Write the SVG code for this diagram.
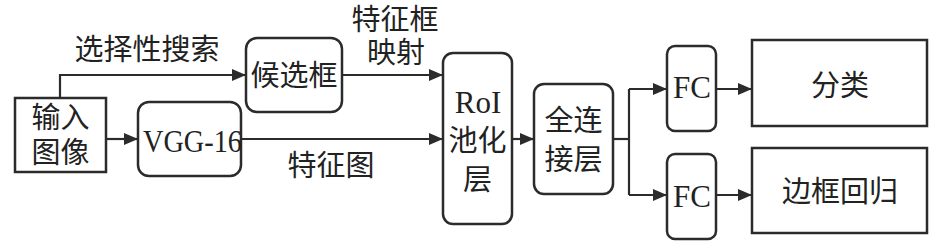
<svg xmlns="http://www.w3.org/2000/svg" width="945" height="243" viewBox="0 0 945 243">
<defs>
<style>
.box{fill:#fff;stroke:#2b2b2b;stroke-width:2.5}
.ln{fill:none;stroke:#2b2b2b;stroke-width:2.2}
.cj{font-family:"Noto Sans CJK SC","Noto Sans CJK JP",sans-serif;font-size:29px;fill:#222;text-anchor:middle}
.la{font-family:"Liberation Serif","Times New Roman",serif;font-size:31px;fill:#222;text-anchor:middle}
</style>
<marker id="ah" viewBox="0 0 14 12" refX="14" refY="6" markerWidth="14" markerHeight="12" markerUnits="userSpaceOnUse" orient="auto">
<path d="M0,0 L14,6 L0,12 Z" fill="#2b2b2b"/>
</marker>
</defs>
<rect width="945" height="243" fill="#fff"/>
<g id="connectors">
<path class="ln" d="M60,98 V75 H246" marker-end="url(#ah)"/>
<path class="ln" d="M106,139 H138" marker-end="url(#ah)"/>
<path class="ln" d="M241,139 H443" marker-end="url(#ah)"/>
<path class="ln" d="M342,75 H443" marker-end="url(#ah)"/>
<path class="ln" d="M512,139 H534" marker-end="url(#ah)"/>
<path class="ln" d="M613,139 H629"/>
<path class="ln" d="M629,89 V195"/>
<path class="ln" d="M629,89 H667" marker-end="url(#ah)"/>
<path class="ln" d="M629,195 H667" marker-end="url(#ah)"/>
<path class="ln" d="M716,89 H752" marker-end="url(#ah)"/>
<path class="ln" d="M716,195 H752" marker-end="url(#ah)"/>
<text class="cj" x="147" y="60">选择性搜索</text>
<text class="cj" x="395" y="30">特征框</text>
<text class="cj" x="396" y="63">映射</text>
<text class="cj" x="331" y="176">特征图</text>
</g>
<g id="input">
<rect class="box" x="15" y="98" width="91" height="74"/>
<text class="cj" x="60.5" y="128">输入</text>
<text class="cj" x="60.5" y="163">图像</text>
</g>
<g id="candidate">
<rect class="box" x="246" y="38" width="96" height="74" rx="11"/>
<text class="cj" x="294" y="86">候选框</text>
</g>
<g id="vgg">
<rect class="box" x="138" y="102" width="103" height="74" rx="11"/>
<text class="la" x="192.5" y="152" textLength="99" lengthAdjust="spacingAndGlyphs">VGG-16</text>
</g>
<g id="roi">
<rect class="box" x="443" y="53" width="69" height="171" rx="10"/>
<text class="la" x="478" y="113">RoI</text>
<text class="cj" x="477.5" y="151">池化</text>
<text class="cj" x="477.5" y="190">层</text>
</g>
<g id="fcl">
<rect class="box" x="534" y="84" width="79" height="110" rx="10"/>
<text class="cj" x="573.5" y="131">全连</text>
<text class="cj" x="573.5" y="170">接层</text>
</g>
<g id="fc1">
<rect class="box" x="667" y="46" width="49" height="85" rx="8"/>
<text class="la" x="692" y="98">FC</text>
</g>
<g id="fc2">
<rect class="box" x="667" y="154" width="49" height="85" rx="8"/>
<text class="la" x="692" y="207">FC</text>
</g>
<g id="cls">
<rect class="box" x="752" y="40" width="175" height="86"/>
<text class="cj" x="840" y="96">分类</text>
</g>
<g id="reg">
<rect class="box" x="752" y="148" width="175" height="85"/>
<text class="cj" x="840" y="202">边框回归</text>
</g>
</svg>
